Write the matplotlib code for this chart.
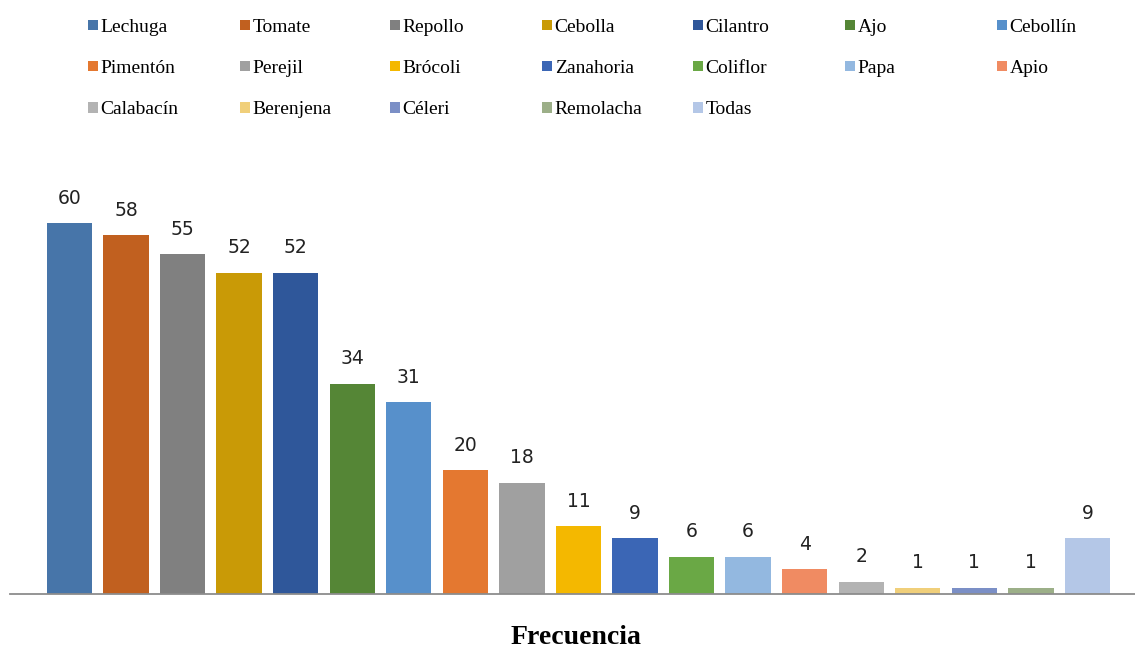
import matplotlib.pyplot as plt
from matplotlib.patches import Patch

# Frecuencia por hortaliza
hortalizas = ['Lechuga', 'Tomate', 'Repollo', 'Cebolla', 'Cilantro', 'Ajo', 'Cebollín',
              'Pimentón', 'Perejil', 'Brócoli', 'Zanahoria', 'Coliflor', 'Papa', 'Apio',
              'Calabacín', 'Berenjena', 'Céleri', 'Remolacha', 'Todas']
frecuencias = [60, 58, 55, 52, 52, 34, 31, 20, 18, 11, 9, 6, 6, 4, 2, 1, 1, 1, 9]
colores = ['#4775a9', '#c1601f', '#808080', '#c99a06', '#2f579a', '#558636', '#5790cb',
           '#e47830', '#a0a0a0', '#f4b800', '#3b66b5', '#6aa845', '#93b8e0', '#f08b62',
           '#b3b3b3', '#f0cf7a', '#7b8fc6', '#9caf88', '#b4c7e7']

fig = plt.figure(figsize=(11.35, 6.51), dpi=100)
ax = fig.add_axes([10 / 1135, 57 / 651, 1 - 10 / 1135, 434 / 651])

x = list(range(len(hortalizas)))
barras = ax.bar(x, frecuencias, width=0.8, color=colores)

# etiquetas de valor sobre cada barra
for xi, v in zip(x, frecuencias):
    ax.annotate(str(v), (xi, v), xytext=(0, 14), textcoords='offset points',
                ha='center', va='baseline', fontsize=13.5, family='DejaVu Sans',
                color='#222222')

ax.set_xlim(-1.05, 18.84)
ax.set_ylim(0, 70.2)
for s in ['top', 'left', 'right']:
    ax.spines[s].set_visible(False)
ax.spines['bottom'].set_color('#8c8c8c')
ax.spines['bottom'].set_linewidth(1.3)
ax.set_xticks([])
ax.set_yticks([])

# leyenda en 7 columnas de ancho fijo
handles = [Patch(facecolor=c, edgecolor='none', label=h) for h, c in zip(hortalizas, colores)]
col_x = [88, 240, 390, 542, 693, 845, 997]
for j, cx in enumerate(col_x):
    hs = handles[j::7]
    fig.legend(handles=hs, loc='upper left', bbox_to_anchor=(cx / 1135, 1 - 19 / 651),
               frameon=False, borderpad=0, borderaxespad=0, handlelength=0.5,
               handleheight=0.45, handletextpad=0.15, labelspacing=1.24,
               prop={'family': 'Liberation Serif', 'size': 14})

fig.text(576 / 1135, 1 - 637 / 651, 'Frecuencia', ha='center', va='center',
         family='Liberation Serif', fontweight='bold', fontsize=20)

fig.savefig('out.png', dpi=100, facecolor='white')
